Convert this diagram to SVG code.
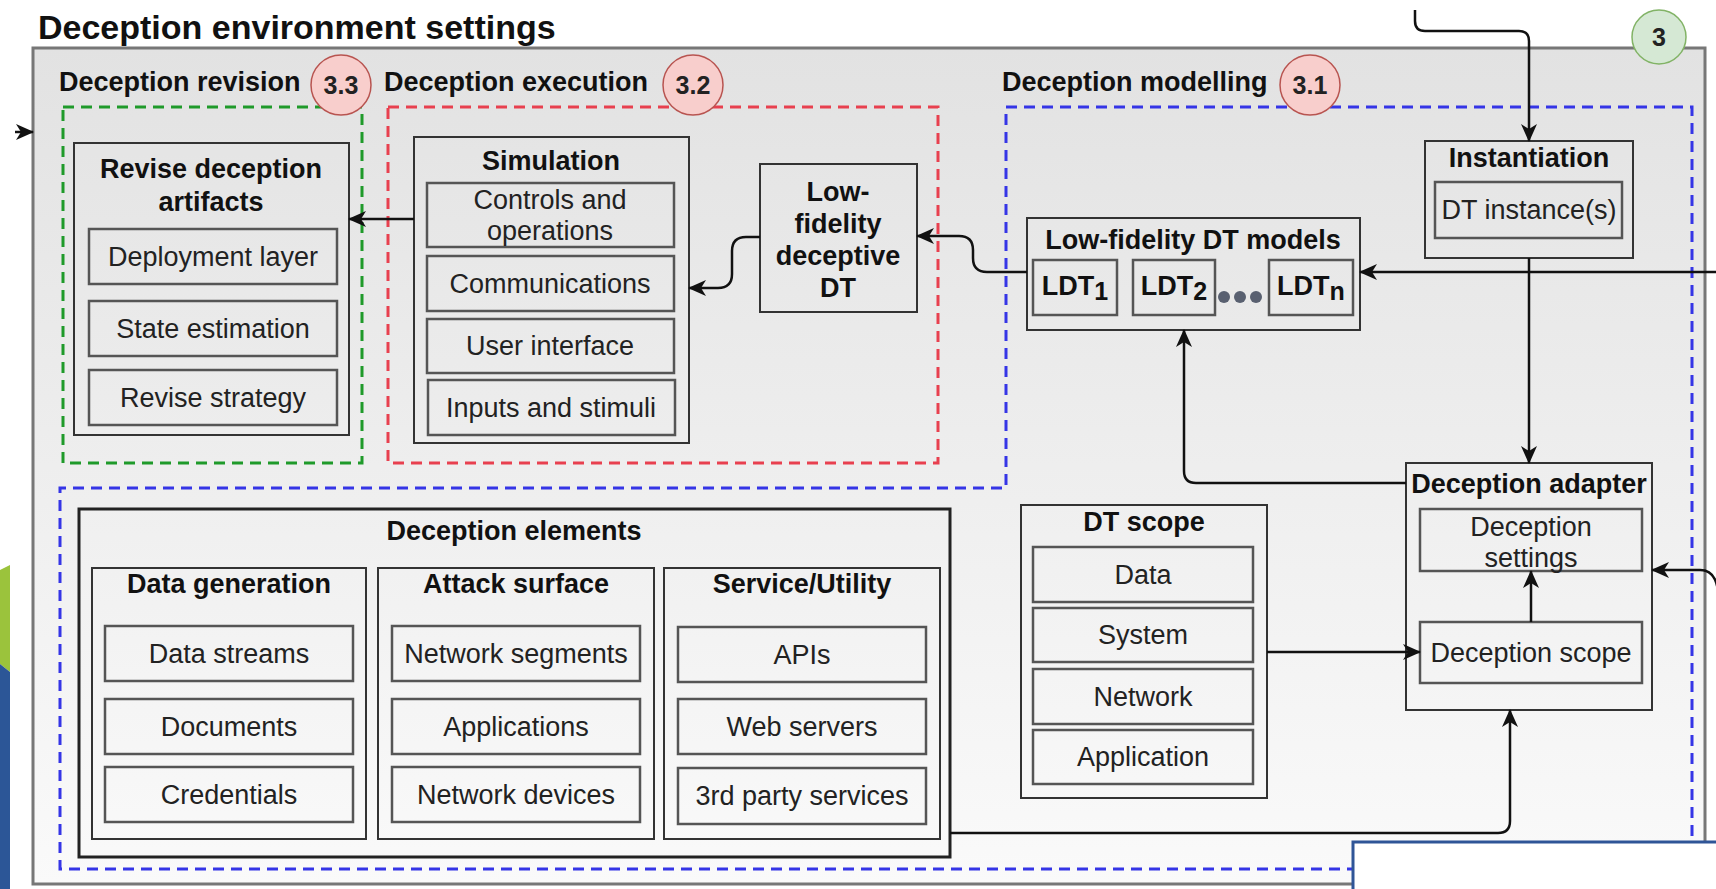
<svg xmlns="http://www.w3.org/2000/svg" width="1716" height="889" viewBox="0 0 1716 889">
<style>
  text { font-family: "Liberation Sans", Arial, sans-serif; fill: #1a1a1a; }
  .ttl { font-size: 27px; font-weight: bold; fill: #111; }
  .c { text-anchor: middle; }
  .txt { font-size: 27px; text-anchor: middle; fill: #222; }
  .num { font-size: 25px; font-weight: bold; text-anchor: middle; fill: #222; }
  .box { fill: none; stroke: #333; stroke-width: 2; }
  .item { fill: none; stroke: #555; stroke-width: 2.5; }
  .zone { fill: none; stroke-width: 3; stroke-dasharray: 11 7; }
  .conn { fill: none; stroke: #111; stroke-width: 2.5; marker-end: url(#arr); }
  .stage { fill: #f8cecc; stroke: #b85450; stroke-width: 1.5; }
</style>
<defs>
  <linearGradient id="bg" x1="0" y1="0" x2="0" y2="1">
    <stop offset="0" stop-color="#e2e2e2"/>
    <stop offset="1" stop-color="#fafafa"/>
  </linearGradient>
  <marker id="arr" markerUnits="userSpaceOnUse" viewBox="0 0 18 16" markerWidth="18" markerHeight="16" refX="17" refY="8" orient="auto">
    <path d="M0,0 L18,8 L0,16 L5,8 Z" fill="#111"/>
  </marker>
</defs>

<!-- side decoration bars -->
<polygon points="0,570 10,565 10,672 0,664" fill="#9bc33c"/>
<polygon points="0,664 10,672 10,889 0,889" fill="#2c5697"/>

<!-- environment container -->
<g id="environment">
  <text x="38" y="39" style="font-size:34px;font-weight:bold;fill:#111">Deception environment settings</text>
  <rect x="33" y="48" width="1672" height="836" fill="url(#bg)" stroke="#777" stroke-width="3"/>
  <circle cx="1659" cy="37" r="27" fill="#d5e8d4" stroke="#82b366" stroke-width="1.5"/>
  <text class="num" x="1659" y="46">3</text>
</g>

<!-- stage zones -->
<g id="zone-revision">
  <rect class="zone" x="63" y="107" width="299" height="356" stroke="#1f9a2a"/>
  <text class="ttl" x="59" y="91">Deception revision</text>
  <circle class="stage" cx="341" cy="85" r="30"/>
  <text class="num" x="341" y="94">3.3</text>
</g>
<g id="zone-execution">
  <rect class="zone" x="388" y="107" width="550" height="356" stroke="#e8404f"/>
  <text class="ttl" x="384" y="91">Deception execution</text>
  <circle class="stage" cx="693" cy="85" r="30"/>
  <text class="num" x="693" y="94">3.2</text>
</g>
<g id="zone-modelling">
  <polygon class="zone" points="1006,107 1692,107 1692,869 60,869 60,488 1006,488" stroke="#3535e6"/>
  <text class="ttl" x="1002" y="91">Deception modelling</text>
  <circle class="stage" cx="1310" cy="85" r="30"/>
  <text class="num" x="1310" y="94">3.1</text>
</g>

<!-- revise deception artifacts -->
<g id="revise-artifacts">
  <rect class="box" x="74" y="143" width="275" height="292"/>
  <text class="ttl c" x="211" y="178">Revise deception</text>
  <text class="ttl c" x="211" y="211">artifacts</text>
  <rect class="item" x="89" y="229" width="248" height="55"/>
  <text class="txt" x="213" y="266">Deployment layer</text>
  <rect class="item" x="89" y="301" width="248" height="55"/>
  <text class="txt" x="213" y="338">State estimation</text>
  <rect class="item" x="89" y="370" width="248" height="55"/>
  <text class="txt" x="213" y="407">Revise strategy</text>
</g>

<!-- simulation -->
<g id="simulation">
  <rect class="box" x="414" y="137" width="275" height="306"/>
  <text class="ttl c" x="551" y="170">Simulation</text>
  <rect class="item" x="427" y="183" width="247" height="64"/>
  <text class="txt" x="550" y="209">Controls and</text>
  <text class="txt" x="550" y="240">operations</text>
  <rect class="item" x="427" y="256" width="247" height="55"/>
  <text class="txt" x="550" y="293">Communications</text>
  <rect class="item" x="427" y="319" width="247" height="54"/>
  <text class="txt" x="550" y="355">User interface</text>
  <rect class="item" x="428" y="380" width="247" height="55"/>
  <text class="txt" x="551" y="417">Inputs and stimuli</text>
</g>

<!-- low-fidelity deceptive DT -->
<g id="lowfi-dt">
  <rect class="box" x="760" y="164" width="157" height="148"/>
  <text class="ttl c" x="838" y="201">Low-</text>
  <text class="ttl c" x="838" y="233">fidelity</text>
  <text class="ttl c" x="838" y="265">deceptive</text>
  <text class="ttl c" x="838" y="297">DT</text>
</g>

<!-- low-fidelity DT models -->
<g id="ldt-models">
  <rect class="box" x="1027" y="218" width="333" height="112"/>
  <text class="ttl c" x="1193" y="249">Low-fidelity DT models</text>
  <rect class="item" x="1033" y="260" width="84" height="55"/>
  <text class="ttl c" x="1075" y="295">LDT<tspan dy="5" style="font-size:25px">1</tspan></text>
  <rect class="item" x="1133" y="260" width="82" height="55"/>
  <text class="ttl c" x="1174" y="295">LDT<tspan dy="5" style="font-size:25px">2</tspan></text>
  <circle cx="1224" cy="297" r="6" fill="#596070"/>
  <circle cx="1240" cy="297" r="6" fill="#596070"/>
  <circle cx="1256" cy="297" r="6" fill="#596070"/>
  <rect class="item" x="1269" y="260" width="84" height="55"/>
  <text class="ttl c" x="1311" y="295">LDT<tspan dy="5" style="font-size:25px">n</tspan></text>
</g>

<!-- instantiation -->
<g id="instantiation">
  <rect class="box" x="1425" y="141" width="208" height="117"/>
  <text class="ttl c" x="1529" y="167">Instantiation</text>
  <rect class="item" x="1435" y="182" width="187" height="56"/>
  <text class="txt" x="1529" y="219">DT instance(s)</text>
</g>

<!-- deception adapter -->
<g id="adapter">
  <rect class="box" x="1406" y="463" width="246" height="247"/>
  <text class="ttl c" x="1529" y="493">Deception adapter</text>
  <rect class="item" x="1420" y="509" width="222" height="62"/>
  <text class="txt" x="1531" y="536">Deception</text>
  <text class="txt" x="1531" y="567">settings</text>
  <rect class="item" x="1420" y="622" width="222" height="61"/>
  <text class="txt" x="1531" y="662">Deception scope</text>
</g>

<!-- DT scope -->
<g id="dt-scope">
  <rect class="box" x="1021" y="505" width="246" height="293"/>
  <text class="ttl c" x="1144" y="531">DT scope</text>
  <rect class="item" x="1033" y="547" width="220" height="55"/>
  <text class="txt" x="1143" y="584">Data</text>
  <rect class="item" x="1033" y="608" width="220" height="54"/>
  <text class="txt" x="1143" y="644">System</text>
  <rect class="item" x="1033" y="669" width="220" height="55"/>
  <text class="txt" x="1143" y="706">Network</text>
  <rect class="item" x="1033" y="730" width="220" height="54"/>
  <text class="txt" x="1143" y="766">Application</text>
</g>

<!-- deception elements -->
<g id="deception-elements">
  <rect x="79" y="509" width="871" height="348" fill="none" stroke="#222" stroke-width="3"/>
  <text class="ttl c" x="514" y="540">Deception elements</text>
  <g id="data-generation">
    <rect class="box" x="92" y="568" width="274" height="271"/>
    <text class="ttl c" x="229" y="593">Data generation</text>
    <rect class="item" x="105" y="626" width="248" height="55"/>
    <text class="txt" x="229" y="663">Data streams</text>
    <rect class="item" x="105" y="699" width="248" height="55"/>
    <text class="txt" x="229" y="736">Documents</text>
    <rect class="item" x="105" y="767" width="248" height="55"/>
    <text class="txt" x="229" y="804">Credentials</text>
  </g>
  <g id="attack-surface">
    <rect class="box" x="378" y="568" width="276" height="271"/>
    <text class="ttl c" x="516" y="593">Attack surface</text>
    <rect class="item" x="392" y="626" width="248" height="55"/>
    <text class="txt" x="516" y="663">Network segments</text>
    <rect class="item" x="392" y="699" width="248" height="55"/>
    <text class="txt" x="516" y="736">Applications</text>
    <rect class="item" x="392" y="767" width="248" height="55"/>
    <text class="txt" x="516" y="804">Network devices</text>
  </g>
  <g id="service-utility">
    <rect class="box" x="664" y="568" width="276" height="271"/>
    <text class="ttl c" x="802" y="593">Service/Utility</text>
    <rect class="item" x="678" y="627" width="248" height="55"/>
    <text class="txt" x="802" y="664">APIs</text>
    <rect class="item" x="678" y="699" width="248" height="55"/>
    <text class="txt" x="802" y="736">Web servers</text>
    <rect class="item" x="678" y="768" width="248" height="56"/>
    <text class="txt" x="802" y="805">3rd party services</text>
  </g>
</g>

<!-- connectors -->
<g id="connectors">
  <path class="conn" d="M15,132 H33"/>
  <path class="conn" d="M1415,10 V21 Q1415,31 1425,31 H1519 Q1529,31 1529,41 V141"/>
  <path class="conn" d="M1529,258 V463"/>
  <path class="conn" d="M1718,272 H1360"/>
  <path class="conn" d="M1718,592 Q1716,570 1700,570 H1652"/>
  <path class="conn" d="M1406,483 H1196 Q1184,483 1184,471 V330"/>
  <path class="conn" d="M1267,652 H1420"/>
  <path class="conn" d="M1531,622 V571"/>
  <path class="conn" d="M950,833 H1498 Q1510,833 1510,821 V710"/>
  <path class="conn" d="M1027,272 H987 Q973,272 973,258 V250 Q973,236 959,236 H917"/>
  <path class="conn" d="M760,237 H746 Q732,237 732,251 V274 Q732,288 718,288 H689"/>
  <path class="conn" d="M414,219 H349"/>
</g>

<!-- overlay panel at lower right -->
<rect x="1353" y="842" width="370" height="60" fill="#ffffff" stroke="#2f5597" stroke-width="3"/>
</svg>
